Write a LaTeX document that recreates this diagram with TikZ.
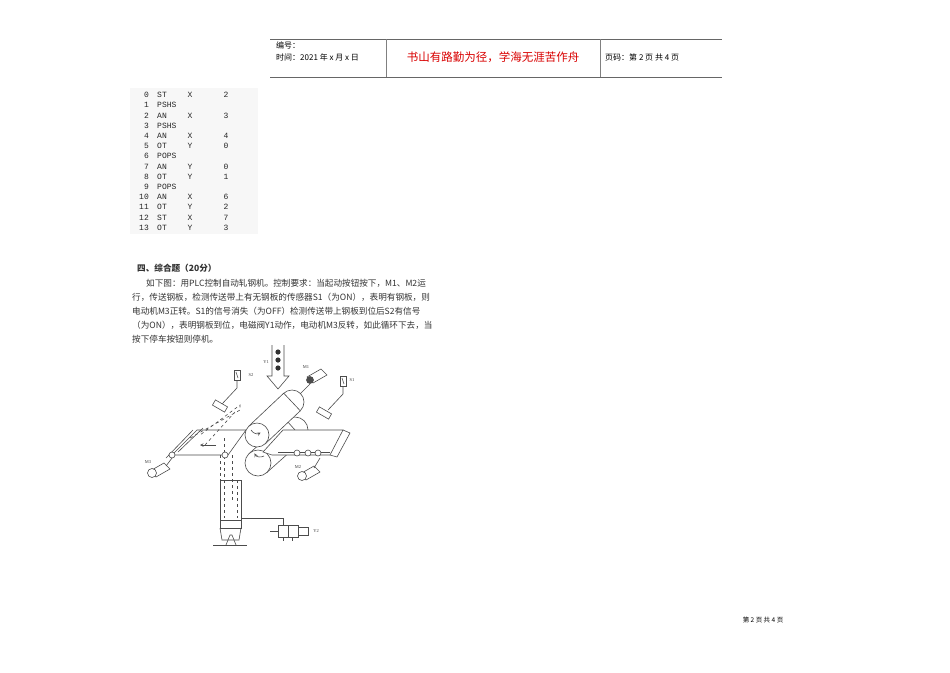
\documentclass[tikz,border=0pt]{standalone}
\usepackage{fontspec}
\setmainfont{Liberation Serif}
\newfontfamily\cjk{Noto Sans CJK SC}
\newfontfamily\monof{Liberation Mono}
\begin{document}
\begin{tikzpicture}[x=1pt,y=-1pt,
  hdr/.style={font=\cjk\fontsize{8}{9}\selectfont,anchor=west,inner sep=0},
  para/.style={font=\cjk\fontsize{8.6}{10}\selectfont,anchor=west,inner sep=0,text=black!80},
  tb/.style={font=\monof\fontsize{8}{8}\selectfont,inner sep=0,text=black!85},
  fig/.style={draw=black!70,line width=0.6pt},
  lab/.style={font=\fontsize{4.5}{5}\selectfont,inner sep=0,text=black!75}]
\useasboundingbox (0,0) rectangle (950,672);
\fill[white] (0,0) rectangle (950,672);
% header
\draw[black!60,line width=0.8pt] (270,39) -- (722,39);
\draw[black!60,line width=0.8pt] (270,77) -- (722,77);
\draw[black!50] (386,39) -- (386,77) (600,39) -- (600,77);
\node[hdr] (h1) at (276,45) {编号：};
\node[hdr] (h2) at (276,57) {时间：2021 年 x 月 x 日};
\node[font=\cjk\fontsize{11.5}{13}\selectfont,text=red!85!black] (h3) at (493,57) {书山有路勤为径，学海无涯苦作舟};
\node[hdr] (h4) at (605,57) {页码：第 2 页 共 4 页};
% table
\fill[black!3] (130,88) rectangle (258,234);
\foreach \n/\op/\r/\v [count=\i from 0] in {0/ST/X/2,1/PSHS//,2/AN/X/3,3/PSHS//,4/AN/X/4,5/OT/Y/0,6/POPS//,7/AN/Y/0,8/OT/Y/1,9/POPS//,10/AN/X/6,11/OT/Y/2,12/ST/X/7,13/OT/Y/3}{
  \node[tb,anchor=east] at (149,{95+10.2*\i}) {\n};
  \node[tb,anchor=west] at (157,{95+10.2*\i}) {\op};
  \node[tb] at (190,{95+10.2*\i}) {\r};
  \node[tb] at (226,{95+10.2*\i}) {\v};
}
% paragraph
\node[para,font=\cjk\bfseries\fontsize{8.6}{10}\selectfont] (t0) at (137,268) {四、综合题（20分）};
\node[para] (t1) at (146,283) {如下图：用PLC控制自动轧钢机。控制要求：当起动按钮按下，M1、M2运};
\node[para] (t2) at (132,297) {行，传送钢板，检测传送带上有无钢板的传感器S1（为ON），表明有钢板，则};
\node[para] (t3) at (132,311) {电动机M3正转。S1的信号消失（为OFF）检测传送带上钢板到位后S2有信号};
\node[para] (t4) at (132,325) {（为ON），表明钢板到位，电磁阀Y1动作，电动机M3反转，如此循环下去，当};
\node[para] (t5) at (132,339) {按下停车按钮则停机。};
% figure
% Y1 arrow
\draw[fig] (272,345) -- (272,376) -- (267,376) -- (278,389) -- (289,376) -- (284,376) -- (284,345);
\foreach \yy in {352,360,368} \fill[black!80] (278,\yy) circle (2.6);
\node[lab] at (266,362) {Y1};
% lower roller (behind)
\draw[fig,fill=white] (295,430) circle (13);
\draw[fig,fill=white] (249.4,453.3) -- (286.4,420.3) -- (303.6,439.7) -- (266.6,472.7) -- cycle;
\draw[fig,fill=white] (258,463) circle (13);
\draw[fig,->,>=stealth] (264,456) arc[start angle=60,end angle=150,radius=7];
% right conveyor
\draw[fig,fill=white] (263,452) -- (283,430) -- (343,430) -- (330,455) -- (272,455) -- cycle;
\draw[fig] (278,452) -- (330,452);
\draw[fig] (343,430) -- (350,433) -- (337,457) -- (330,455);
\foreach \xx in {297,308,318} \draw[fig,fill=white] (\xx,453) circle (3);
% upper roller
\draw[fig,fill=white] (292,402) circle (12);
\draw[fig,fill=white] (248.7,426.2) -- (283.7,393.2) -- (300.3,410.8) -- (265.3,443.8) -- cycle;
\draw[fig,fill=white] (257,435) circle (12);
\draw[fig,->,>=stealth] (251,430) arc[start angle=150,end angle=60,radius=7];
% left conveyor
\draw[fig] (172,455) -- (197,430) -- (246,430);
\draw[fig] (172,455) -- (228,455) -- (246,430);
\draw[fig] (166,458) -- (193,430) (178,452) -- (203,428);
\draw[fig,->,>=stealth] (216,445) -- (200,445);
\draw[fig,dashed] (190,438) -- (240,410) -- (240,405) -- (200,435) (205,445) -- (235,412);
\draw[fig,dashed] (220,455) -- (220,500) (224,438) -- (224,500) (232,455) -- (232,500);
\draw[fig,fill=white] (225,455) circle (3);
\draw[fig,fill=white] (172,455) circle (3);
% motors
\foreach \mx/\my in {150/471,300/474}{
  \draw[fig,fill=white] (\mx,\my) -- ++(14,-8) -- ++(6,6) -- ++(-14,8) -- cycle;
  \draw[fig,fill=white] (\mx+2,\my+2) circle (4.5);
}
\draw[fig] (166,466) -- (172,458) (314,468) -- (320,458);
\node[lab] at (148,462) {M3};
\node[lab] at (298,467) {M2};
\draw[fig,fill=white] (307,377) -- ++(14,-8) -- ++(6,6) -- ++(-14,8) -- cycle;
\draw[fig,fill=black!70] (310,380) circle (3.5);
\draw[fig] (310,384) -- (300,394);
\node[lab] at (306,367) {M1};
% sensors
\draw[fig] (234,370) rectangle (240,380);
\draw[fig] (236,372) -- (238,378);
\node[lab] at (251,375) {S2};
\draw[fig] (237,380) -- (237,388) -- (222,404);
\draw[fig,fill=white,rotate around={-30:(220,406)}] (213,403) rectangle (227,409);
\draw[fig] (340,376) rectangle (346,386);
\draw[fig] (342,378) -- (344,384);
\node[lab] at (352,380) {S1};
\draw[fig] (343,386) -- (343,394) -- (328,410);
\draw[fig,fill=white,rotate around={-30:(324,413)}] (317,410) rectangle (331,416);
% hydraulic cylinder
\draw[fig] (220,480) rectangle (241,520);
\draw[fig,dashed] (224,480) -- (224,518) (237,480) -- (237,518);
\draw[fig] (220,520) rectangle (241,528);
\draw[fig] (220,528) -- (222,540) -- (239,540) -- (241,528);
\draw[fig] (226,545) -- (230,535) -- (232,535) -- (236,545);
\draw[fig] (213,545) -- (247,545);
% valve Y2
\draw[fig] (241,518) -- (283,518) -- (283,525);
\draw[fig] (278,525) rectangle (298,537);
\draw[fig] (288,525) -- (288,537);
\draw[fig] (298,527) rectangle (308,535);
\draw[fig] (270,531) -- (278,531);
\draw[fig] (283,537) -- (283,541) (292,537) -- (292,541);
\node[lab] at (316,531) {Y2};
% footer
\node[font=\cjk\fontsize{6.5}{8}\selectfont,inner sep=0] (ft) at (763,620) {第 2 页 共 4 页};
\end{tikzpicture}
\end{document}
